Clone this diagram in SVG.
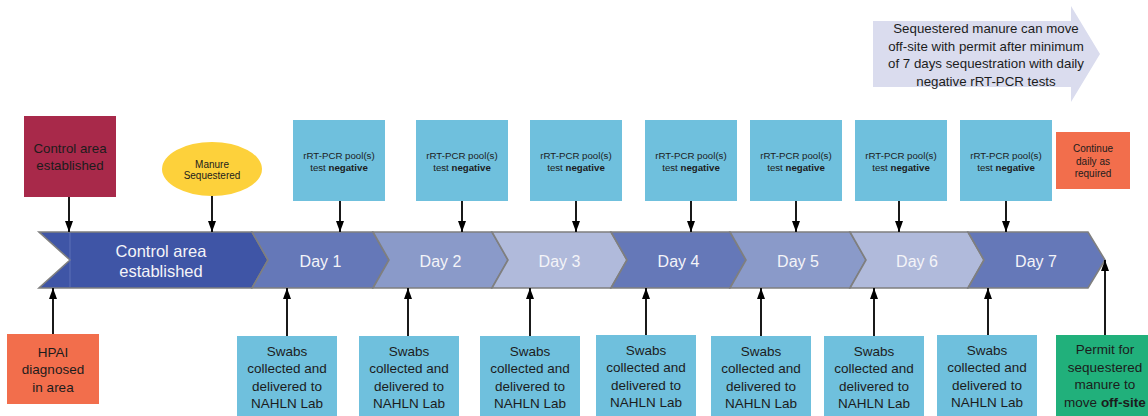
<svg xmlns="http://www.w3.org/2000/svg" width="1148" height="416" viewBox="0 0 1148 416">
<defs>
<style>
text{font-family:"Liberation Sans",Arial,Helvetica,sans-serif;text-anchor:middle;fill:#1c1c1c}
.band{stroke:#7f7f7f;stroke-width:1.6;stroke-linejoin:miter}
.c0{fill:#3f55a6}.c1{fill:#6578b8}.c2{fill:#8a9ac9}.c3{fill:#b0badb}
.day{font-size:16px;fill:#f4f4f8}
.cyan{fill:#6fc0dd}
.rt{font-size:9.7px}
.sw{font-size:13.5px}
.b{font-weight:bold}
.conn line{stroke:#000;stroke-width:1.8}
</style>
<marker id="ah" viewBox="0 0 11 8" refX="11" refY="4" markerWidth="11" markerHeight="8" markerUnits="userSpaceOnUse" orient="auto"><path d="M0,0 L11,4 L0,8 z" fill="#000"/></marker>
</defs>

<!-- big arrow -->
<g id="permit-note">
<path d="M873,21 L1071,21 L1071,6 L1100,54 L1071,102 L1071,87 L873,87 Z" fill="#dadcee"/>
<text x="986" y="33" style="font-size:13.3px">Sequestered manure can move</text>
<text x="986" y="50.7" style="font-size:13.3px">off-site with permit after minimum</text>
<text x="986" y="68.3" style="font-size:13.3px">of 7 days sequestration with daily</text>
<text x="986" y="86" style="font-size:13.3px">negative rRT-PCR tests</text>
</g>

<!-- timeline band -->
<g id="timeline">
<g id="seg-control">
<path class="band c0" d="M39,232 L252,232 L268,260 L252,288 L39,288 L70,260 Z"/>
<line x1="70" y1="233" x2="70" y2="287" stroke="#6477bd" stroke-width="0.8"/>
<text class="day" x="161" y="256.5" style="font-size:16.5px">Control area</text>
<text class="day" x="161" y="277" style="font-size:16.5px">established</text>
</g>
<g id="seg-day1"><path class="band c1" d="M252,232 L373,232 L389,260 L373,288 L252,288 L268,260 Z"/><text class="day" x="320.5" y="267">Day 1</text></g>
<g id="seg-day2"><path class="band c2" d="M373,232 L492,232 L508,260 L492,288 L373,288 L389,260 Z"/><text class="day" x="440.5" y="267">Day 2</text></g>
<g id="seg-day3"><path class="band c3" d="M492,232 L611,232 L627,260 L611,288 L492,288 L508,260 Z"/><text class="day" x="559.5" y="267">Day 3</text></g>
<g id="seg-day4"><path class="band c1" d="M611,232 L730,232 L746,260 L730,288 L611,288 L627,260 Z"/><text class="day" x="678.5" y="267">Day 4</text></g>
<g id="seg-day5"><path class="band c2" d="M730,232 L850,232 L866,260 L850,288 L730,288 L746,260 Z"/><text class="day" x="798" y="267">Day 5</text></g>
<g id="seg-day6"><path class="band c3" d="M850,232 L968,232 L984,260 L968,288 L850,288 L866,260 Z"/><text class="day" x="917" y="267">Day 6</text></g>
<g id="seg-day7"><path class="band c1" d="M968,232 L1088,232 L1105,260 L1088,288 L968,288 L984,260 Z"/><text class="day" x="1036" y="267">Day 7</text></g>
</g>

<!-- top nodes -->
<g id="control-box">
<rect x="24" y="116" width="92" height="81" fill="#a8294a"/>
<text x="70" y="152.5" style="font-size:13.3px">Control area</text>
<text x="70" y="170" style="font-size:13.3px">established</text>
</g>
<g id="manure">
<ellipse cx="212" cy="169" rx="50" ry="27" fill="#fdd13b"/>
<text x="212" y="167.6" style="font-size:10px">Manure</text>
<text x="212" y="179" style="font-size:10px">Sequestered</text>
</g>
<g id="test1"><rect class="cyan" x="293" y="120" width="92" height="81"/><text class="rt" x="339" y="159.3">rRT-PCR pool(s)</text><text class="rt" x="339" y="171.3">test <tspan class="b">negative</tspan></text></g>
<g id="test2"><rect class="cyan" x="416" y="120" width="92" height="81"/><text class="rt" x="462" y="159.3">rRT-PCR pool(s)</text><text class="rt" x="462" y="171.3">test <tspan class="b">negative</tspan></text></g>
<g id="test3"><rect class="cyan" x="530" y="120" width="92" height="81"/><text class="rt" x="576" y="159.3">rRT-PCR pool(s)</text><text class="rt" x="576" y="171.3">test <tspan class="b">negative</tspan></text></g>
<g id="test4"><rect class="cyan" x="645" y="120" width="92" height="81"/><text class="rt" x="691" y="159.3">rRT-PCR pool(s)</text><text class="rt" x="691" y="171.3">test <tspan class="b">negative</tspan></text></g>
<g id="test5"><rect class="cyan" x="750" y="120" width="92" height="81"/><text class="rt" x="796" y="159.3">rRT-PCR pool(s)</text><text class="rt" x="796" y="171.3">test <tspan class="b">negative</tspan></text></g>
<g id="test6"><rect class="cyan" x="855" y="120" width="92" height="81"/><text class="rt" x="901" y="159.3">rRT-PCR pool(s)</text><text class="rt" x="901" y="171.3">test <tspan class="b">negative</tspan></text></g>
<g id="test7"><rect class="cyan" x="960" y="120" width="92" height="81"/><text class="rt" x="1006" y="159.3">rRT-PCR pool(s)</text><text class="rt" x="1006" y="171.3">test <tspan class="b">negative</tspan></text></g>
<g id="continue">
<rect x="1056" y="132" width="74" height="57" fill="#f26e4c"/>
<text x="1093" y="152" style="font-size:10px">Continue</text>
<text x="1093" y="164.5" style="font-size:10px">daily as</text>
<text x="1093" y="177" style="font-size:10px">required</text>
</g>

<!-- bottom nodes -->
<g id="hpai">
<rect x="7" y="334" width="92" height="70" fill="#f26e4c"/>
<text class="sw" x="53" y="356.5">HPAI</text>
<text class="sw" x="53" y="374">diagnosed</text>
<text class="sw" x="53" y="391.5">in area</text>
</g>
<g id="swab1"><rect class="cyan" x="237" y="336" width="100" height="80"/><text class="sw" x="287" y="355.8">Swabs</text><text class="sw" x="287" y="373.3">collected and</text><text class="sw" x="287" y="390.6">delivered to</text><text class="sw" x="287" y="407.9">NAHLN Lab</text></g>
<g id="swab2"><rect class="cyan" x="359" y="336" width="100" height="80"/><text class="sw" x="409" y="355.8">Swabs</text><text class="sw" x="409" y="373.3">collected and</text><text class="sw" x="409" y="390.6">delivered to</text><text class="sw" x="409" y="407.9">NAHLN Lab</text></g>
<g id="swab3"><rect class="cyan" x="480" y="336" width="100" height="80"/><text class="sw" x="530" y="355.8">Swabs</text><text class="sw" x="530" y="373.3">collected and</text><text class="sw" x="530" y="390.6">delivered to</text><text class="sw" x="530" y="407.9">NAHLN Lab</text></g>
<g id="swab4"><rect class="cyan" x="596" y="335" width="100" height="81"/><text class="sw" x="646" y="354.8">Swabs</text><text class="sw" x="646" y="372.3">collected and</text><text class="sw" x="646" y="389.6">delivered to</text><text class="sw" x="646" y="406.9">NAHLN Lab</text></g>
<g id="swab5"><rect class="cyan" x="711" y="336" width="100" height="80"/><text class="sw" x="761" y="355.8">Swabs</text><text class="sw" x="761" y="373.3">collected and</text><text class="sw" x="761" y="390.6">delivered to</text><text class="sw" x="761" y="407.9">NAHLN Lab</text></g>
<g id="swab6"><rect class="cyan" x="824" y="336" width="100" height="80"/><text class="sw" x="874" y="355.8">Swabs</text><text class="sw" x="874" y="373.3">collected and</text><text class="sw" x="874" y="390.6">delivered to</text><text class="sw" x="874" y="407.9">NAHLN Lab</text></g>
<g id="swab7"><rect class="cyan" x="937" y="335" width="100" height="81"/><text class="sw" x="987" y="354.8">Swabs</text><text class="sw" x="987" y="372.3">collected and</text><text class="sw" x="987" y="389.6">delivered to</text><text class="sw" x="987" y="406.9">NAHLN Lab</text></g>
<g id="permit">
<rect x="1056" y="335" width="100" height="81" fill="#21b07b"/>
<text class="sw" x="1105" y="354">Permit for</text>
<text class="sw" x="1105" y="371.5">sequestered</text>
<text class="sw" x="1105" y="389">manure to</text>
<text class="sw" x="1105" y="406.5">move <tspan class="b">off-site</tspan></text>
</g>

<!-- connectors -->
<g id="connectors" class="conn">
<line x1="69" y1="197" x2="69" y2="232" marker-end="url(#ah)"/>
<line x1="212" y1="196" x2="212" y2="232" marker-end="url(#ah)"/>
<line x1="340" y1="201" x2="340" y2="232" marker-end="url(#ah)"/>
<line x1="462" y1="201" x2="462" y2="232" marker-end="url(#ah)"/>
<line x1="576" y1="201" x2="576" y2="232" marker-end="url(#ah)"/>
<line x1="691" y1="201" x2="691" y2="232" marker-end="url(#ah)"/>
<line x1="796" y1="201" x2="796" y2="232" marker-end="url(#ah)"/>
<line x1="899" y1="201" x2="899" y2="232" marker-end="url(#ah)"/>
<line x1="1006" y1="201" x2="1006" y2="232" marker-end="url(#ah)"/>
<line x1="53" y1="334" x2="53" y2="288" marker-end="url(#ah)"/>
<line x1="287" y1="336" x2="287" y2="288" marker-end="url(#ah)"/>
<line x1="408" y1="336" x2="408" y2="288" marker-end="url(#ah)"/>
<line x1="530" y1="336" x2="530" y2="288" marker-end="url(#ah)"/>
<line x1="646" y1="335" x2="646" y2="288" marker-end="url(#ah)"/>
<line x1="761" y1="336" x2="761" y2="288" marker-end="url(#ah)"/>
<line x1="874" y1="336" x2="874" y2="288" marker-end="url(#ah)"/>
<line x1="988" y1="335" x2="988" y2="288" marker-end="url(#ah)"/>
<line x1="1105" y1="335" x2="1105" y2="260" marker-end="url(#ah)"/>
</g>
</svg>
